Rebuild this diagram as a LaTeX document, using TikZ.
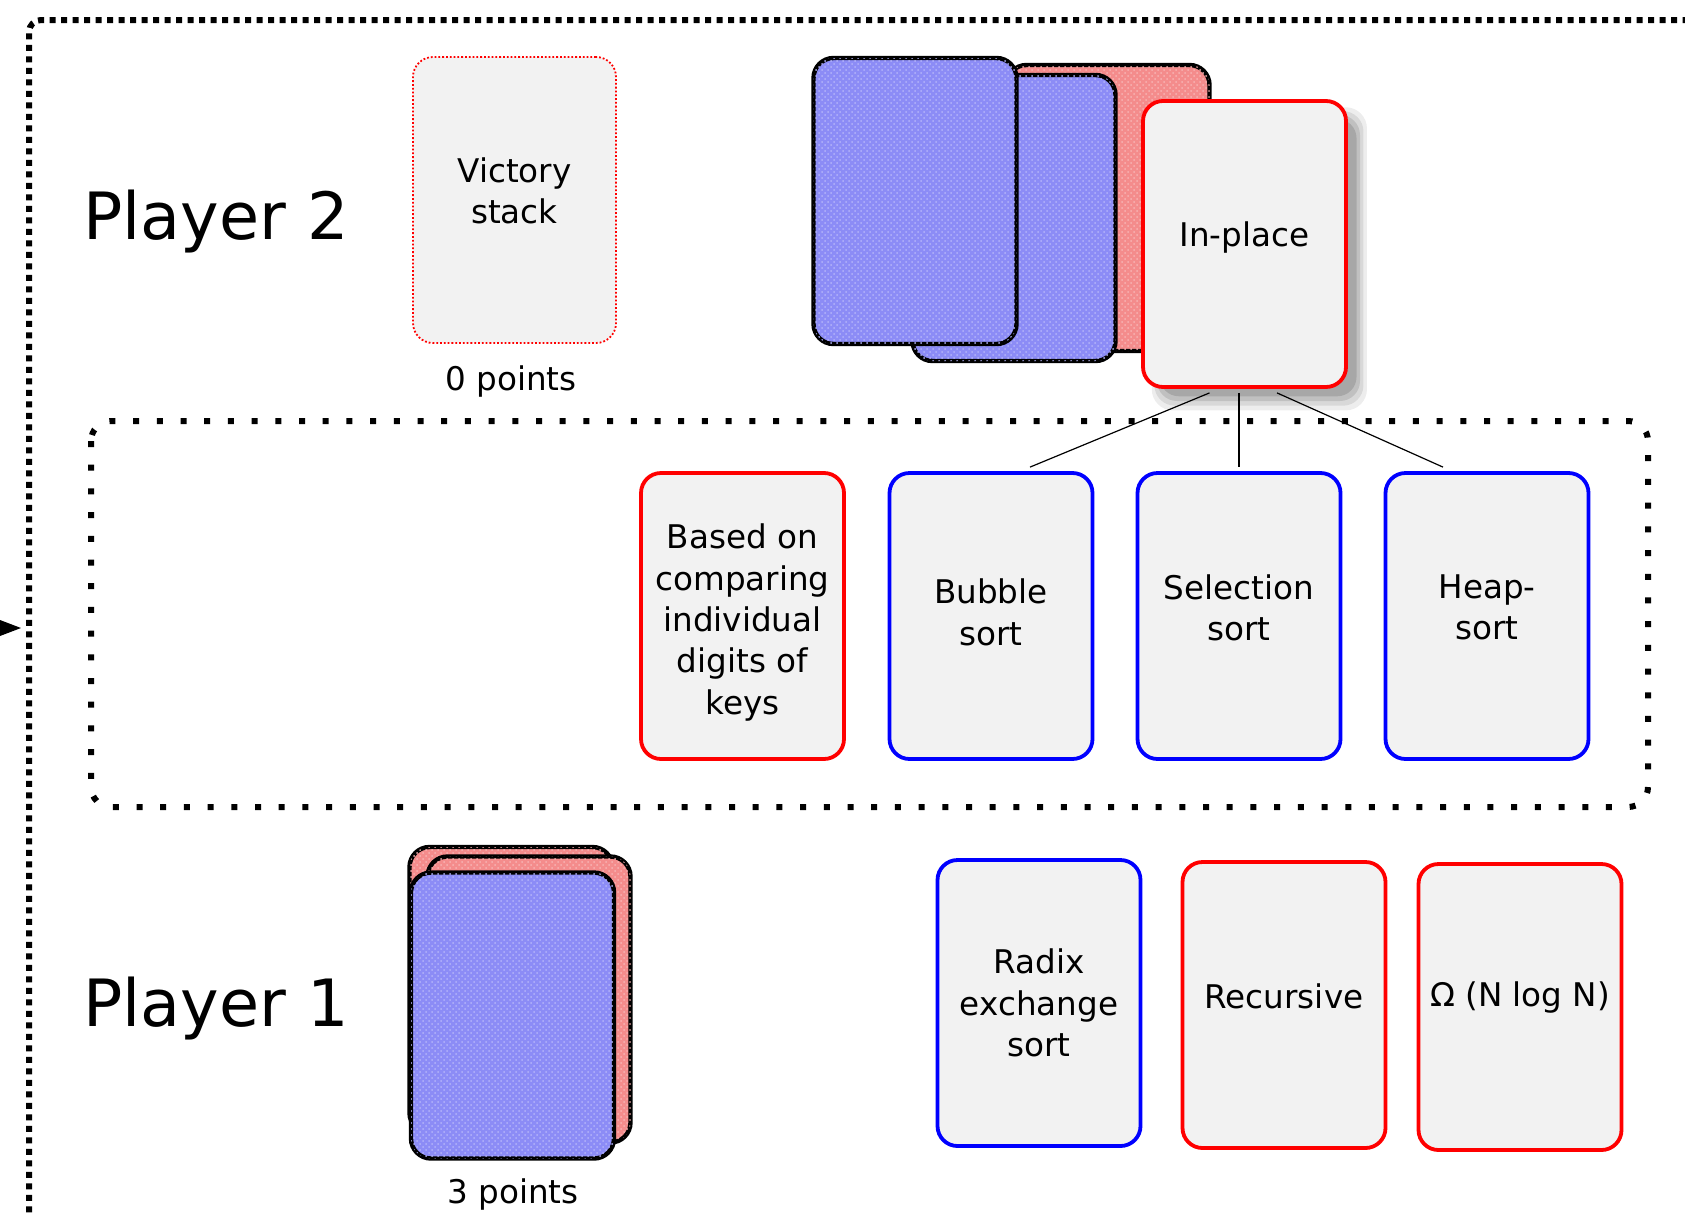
\documentclass[tikz,border=0pt]{standalone}
\usepackage{fontspec}
\setmainfont{DejaVu Sans}
\usepackage{xcolor}
\usepackage{tikz}
\usetikzlibrary{arrows.meta}
\usetikzlibrary{shapes,shadows,patterns}
\definecolor{cardgray}{RGB}{242,242,242}
\definecolor{backblue}{RGB}{140,140,246}
\definecolor{backred}{RGB}{244,140,140}
\newcommand{\cardfont}{\fontsize{16.3}{20.7}\selectfont}
\newcommand{\bigfont}{\fontsize{32.6}{39}\selectfont}
\tikzstyle{card} = [rectangle, rounded corners=10pt, minimum width=101.5pt, minimum height=143pt, inner sep=0pt, align=center, font=\cardfont]
\tikzstyle{facered} = [card, fill=cardgray, draw=red, line width=1.9pt]
\tikzstyle{faceblue} = [card, fill=cardgray, draw=blue, line width=1.9pt]
\tikzstyle{backb} = [card, fill=backblue, draw=black, line width=2.2pt, postaction={pattern=crosshatch dots, pattern color=white!35!backblue}]
\tikzstyle{backr} = [card, fill=backred, draw=black, line width=2.2pt, postaction={pattern=crosshatch dots, pattern color=white!35!backred}]
\tikzstyle{softshadow} = [drop shadow={shadow xshift=7pt, shadow yshift=-7pt, shadow scale=1.06, opacity=0.07, fill=black},
                          drop shadow={shadow xshift=7pt, shadow yshift=-7pt, shadow scale=1.03, opacity=0.09, fill=black},
                          drop shadow={shadow xshift=7pt, shadow yshift=-7pt, shadow scale=1.00, opacity=0.11, fill=black},
                          drop shadow={shadow xshift=7pt, shadow yshift=-7pt, shadow scale=0.97, opacity=0.13, fill=black}]
\tikzstyle{link} = [line width=0.6pt, black]

\begin{document}
\begin{tikzpicture}[x=0.5pt, y=-0.5pt, >=Stealth,
                    outerdots/.style={line width=3pt, dash pattern=on 3pt off 2.75pt, rounded corners=6pt},
                    innerdots/.style={line width=3pt, dash pattern=on 3pt off 8.85pt, rounded corners=10pt}]

% 画布大小
\useasboundingbox (0,0) rectangle (1685,1216);

% 外框 (虚线)
\draw[outerdots] (1700,20) -- (29,20) -- (29,1240);
\coordinate (src) at (-12,628);
\coordinate (entry) at (21,628);
\draw[-{Triangle[length=14pt,width=10.5pt]}, line width=0.6pt] (src) -- (entry);

% 中间区域
\draw[innerdots] (91,421) rectangle (1648,807);

% 玩家 2
\node[font=\bigfont, anchor=base] (player2) at (216,239) {Player 2};
\node[card, fill=cardgray, draw=red, line width=0.9pt, densely dotted, text depth=9.6pt] (victory) at (514.5,200) {Victory\\stack};
\node[font=\cardfont, anchor=base] (points2) at (511,390) {0 points};

\node[backr] (deck2c) at (1108,208) {};
\node[backb] (deck2b) at (1014,218) {};
\node[backb] (deck2a) at (915,201) {};
\node[facered, softshadow, text depth=10.25pt] (inplace) at (1244.5,244) {In-place};

% 桌面上的牌
\node[facered, text height=101.6pt] (digits) at (742.5,616) {Based on\\comparing\\individual\\digits of\\keys};
\node[faceblue, text depth=3.8pt] (bubble) at (991,616) {Bubble\\sort};
\node[faceblue, text depth=8.6pt] (selection) at (1239,616) {Selection\\sort};
\node[faceblue, text depth=8.6pt] (heap) at (1487,616) {Heap-\\sort};

% 连线
\draw[link] ([xshift=-17.5pt,yshift=-2pt]inplace.south) -- ([xshift=19.5pt,yshift=2pt]bubble.north);
\draw[link] ([xshift=-2.75pt,yshift=-2pt]inplace.south) -- ([yshift=2pt]selection.north);
\draw[link] ([xshift=16.25pt,yshift=-2pt]inplace.south) -- ([xshift=-22pt,yshift=2pt]heap.north);

% 玩家 1
\node[font=\bigfont, anchor=base] (player1) at (216,1026) {Player 1};
\node[backr] (deck1c) at (511,990) {};
\node[backr] (deck1b) at (529,999.5) {};
\node[backb] (deck1a) at (512.5,1015.5) {};
\node[font=\cardfont, anchor=base] (points1) at (513,1203) {3 points};

\node[faceblue] (radix) at (1039,1003) {Radix\\exchange\\sort};
\node[facered, text depth=8.6pt] (recursive) at (1284,1005) {Recursive};
\node[facered, text depth=12.45pt] (omega) at (1520,1007) {Ω (N log N)};

\end{tikzpicture}
\end{document}
